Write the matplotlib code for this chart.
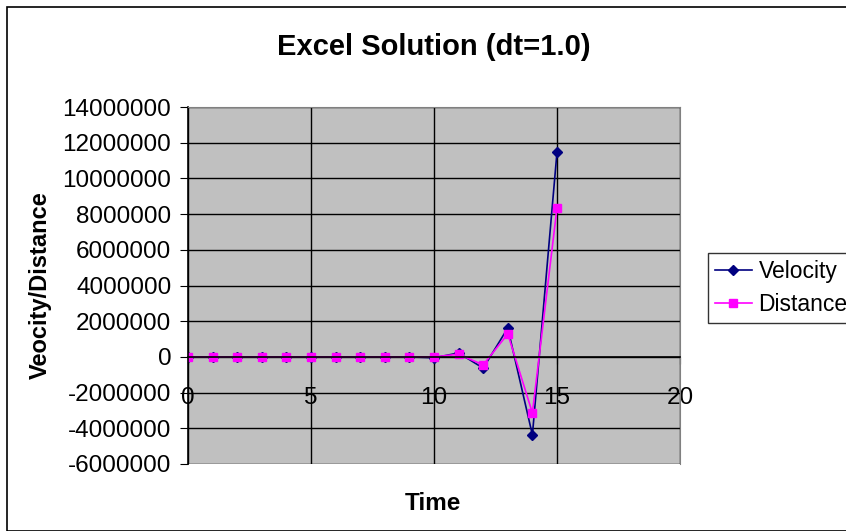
import numpy as np
import matplotlib.pyplot as plt
from matplotlib.patches import Rectangle

plt.rcParams['font.family'] = ['Liberation Sans', 'DejaVu Sans']

time = np.arange(0, 16)
velocity = [0, 0, 0, 0, 0, 0, 0, 0, 0, 0, -50000, 220000, -630000, 1620000, -4370000, 11480000]
distance = [0, 0, 0, 0, 0, 0, 0, 0, 0, 0, 0, 150000, -450000, 1290000, -3140000, 8350000]

fig = plt.figure(figsize=(8.46, 5.31), dpi=100)
fig.patches.append(Rectangle((7 / 846, 0), 1, 1 - 7 / 531, transform=fig.transFigure,
                             fill=False, edgecolor='black', linewidth=1.2))

ax = fig.add_axes([188 / 846, 1 - 464 / 531, 492 / 846, 357 / 531])
ax.set_facecolor('#c0c0c0')

ax.plot(time, velocity, color='#000080', marker='D', markersize=5, linewidth=1.2, label='Velocity')
ax.plot(time, distance, color='#ff00ff', marker='s', markersize=6, linewidth=1.2, label='Distance')

ax.set_xlim(0, 20)
ax.set_ylim(-6000000, 14000000)
ax.set_xticks([0, 5, 10, 15, 20])
ax.set_yticks(np.arange(-6000000, 14000001, 2000000))
ax.yaxis.set_major_formatter(plt.FuncFormatter(lambda v, p: '%d' % v))
ax.grid(True, color='black', linewidth=1.0)
ax.set_axisbelow(True)

ax.spines['bottom'].set_position(('data', 0))
ax.spines['bottom'].set_linewidth(1.2)
ax.spines['left'].set_linewidth(1.2)
ax.spines['top'].set_color('#808080')
ax.spines['right'].set_color('#808080')
ax.tick_params(axis='y', direction='out', length=6, labelsize=17.5, pad=6)
ax.tick_params(axis='x', direction='out', length=5, labelsize=17.5, pad=17)

ax.set_title('Excel Solution (dt=1.0)', fontsize=21, fontweight='bold', pad=0, y=1.0)
ax.title.set_position((0.5, 1 + 52 / 357))
ax.set_ylabel('Veocity/Distance', fontsize=17, fontweight='bold')
ax.yaxis.set_label_coords(-136 / 492, 0.5)
fig.text(433 / 846, 1 - 503 / 531, 'Time', fontsize=17.5, fontweight='bold', ha='center', va='center')

leg = fig.legend(loc='upper left', bbox_to_anchor=(708 / 846, 1 - 253 / 531), fontsize=16.5,
                 frameon=True, fancybox=False, edgecolor='black', handlelength=1.6,
                 handletextpad=0.3, borderpad=0.3, labelspacing=0.45, borderaxespad=0)
leg.get_frame().set_linewidth(1.0)

fig.savefig('out.png', dpi=100)
